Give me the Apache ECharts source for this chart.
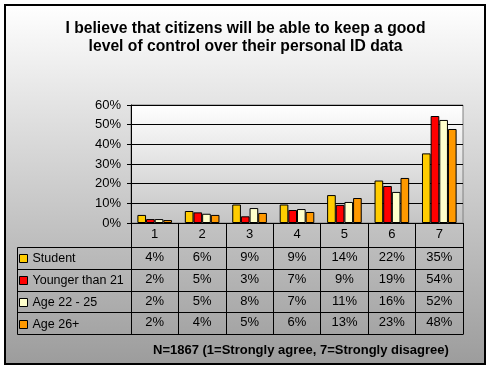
<!DOCTYPE html>
<html><head><meta charset="utf-8">
<script src="https://cdn.jsdelivr.net/npm/echarts@6/dist/echarts.min.js"></script>
<style>html,body{margin:0;padding:0;background:#fff}#c{width:491px;height:369px}</style>
</head><body><div id="c"></div>
<script>
// ---- data ----
const categories = ['1', '2', '3', '4', '5', '6', '7'];
const seriesNames = ['Student', 'Younger than 21', 'Age 22 - 25', 'Age 26+'];
const student = [4.1, 6.1, 9.4, 9.4, 14.2, 21.6, 35.4];
const younger = [2.0, 5.4, 3.4, 6.6, 9.2, 18.8, 54.4];
const age2225 = [2.0, 4.7, 7.6, 7.1, 10.7, 15.8, 52.4];
const age26 = [1.5, 4.1, 5.1, 5.6, 12.7, 22.9, 47.8];
const yTicks = [0, 10, 20, 30, 40, 50, 60];
const titleText = 'I believe that citizens will be able to keep a good\nlevel of control over their personal ID data';
const footnote = 'N=1867 (1=Strongly agree, 7=Strongly disagree)';
const colors = ['#FFCC00', '#FF0000', '#FFFFCC', '#FF9900'];

// ---- layout ----
const W = 491, H = 369;
const gL = 131, gR = 463, gT = 105, gB = 223;
const tableLeft = 17, tableTop = 247, rowH = 21.8;
const font = "'Liberation Sans', Arial, sans-serif";

const allSeries = [student, younger, age2225, age26];
const chart = echarts.init(document.getElementById('c'), null, { renderer: 'canvas' });

const xAxes = [{
  type: 'category', data: categories, position: 'bottom', gridIndex: 0,
  axisLine: { lineStyle: { color: '#000', width: 1 } },
  axisTick: { show: true, length: tableTop + 4 * rowH - gB, lineStyle: { color: '#000' } },
  axisLabel: { color: '#000', fontSize: 13, fontFamily: font, margin: 5, lineHeight: 13 },
  splitLine: { show: false }
}];
allSeries.forEach((arr, k) => {
  xAxes.push({
    type: 'category', gridIndex: 0, position: 'bottom',
    data: arr.map(v => Math.round(v) + '%'),
    offset: Math.round(tableTop - gB + k * rowH) - 1,
    axisLine: { show: false }, axisTick: { show: false }, splitLine: { show: false },
    axisLabel: { color: '#000', fontSize: 13, fontFamily: font, margin: 5, lineHeight: 13 }
  });
});

const graphics = [{
  type: 'rect', z: -100, silent: true,
  shape: { x: 5, y: 5, width: 480, height: 359 },
  style: {
    fill: new echarts.graphic.LinearGradient(0, 0, 0, 1, [
      { offset: 0, color: '#ffffff' }, { offset: 1, color: '#9c9c9c' }]),
    stroke: '#000', lineWidth: 2
  }
}];
for (let i = 0; i <= 4; i++) {
  const y = Math.round(tableTop + i * rowH) + 0.5;
  graphics.push({ type: 'line', silent: true, z: 10,
    shape: { x1: tableLeft + 0.5, y1: y, x2: gR + 0.5, y2: y },
    style: { stroke: '#000', lineWidth: 1 } });
}
graphics.push({ type: 'line', silent: true, z: 10,
  shape: { x1: tableLeft + 0.5, y1: tableTop + 0.5, x2: tableLeft + 0.5, y2: Math.round(tableTop + 4 * rowH) + 0.5 },
  style: { stroke: '#000', lineWidth: 1 } });

chart.setOption({
  animation: false,
  backgroundColor: '#ffffff',
  textStyle: { fontFamily: font },
  title: [{
    text: titleText, left: 'center', top: 15,
    textStyle: { fontSize: 15.7, fontWeight: 'bold', color: '#000', fontFamily: font, lineHeight: 18 }
  }, {
    text: footnote, left: 148, top: 339,
    textStyle: { fontSize: 13, fontWeight: 'bold', color: '#000', fontFamily: font }
  }],
  legend: {
    orient: 'vertical', left: 19, top: 252, itemWidth: 8, itemHeight: 8, itemGap: 9,
    padding: 0, icon: 'rect', itemStyle: { borderColor: '#000', borderWidth: 1 },
    textStyle: { fontSize: 12.5, color: '#000', fontFamily: font },
    data: seriesNames
  },
  grid: {
    left: gL, right: W - gR, top: gT, bottom: H - gB, outerBoundsMode: 'none', containLabel: false,
    show: true, borderColor: '#808080', borderWidth: 1,
    backgroundColor: new echarts.graphic.LinearGradient(0, 0, 0, 1, [
      { offset: 0, color: '#ffffff' }, { offset: 1, color: '#c4c4c4' }])
  },
  xAxis: xAxes,
  yAxis: {
    type: 'value', min: yTicks[0], max: yTicks[yTicks.length - 1], interval: 10,
    axisLine: { show: true, lineStyle: { color: '#000' } },
    axisTick: { show: true, length: 4, lineStyle: { color: '#000' } },
    axisLabel: { color: '#000', fontSize: 13, fontFamily: font, margin: 10, formatter: '{value}%' },
    splitLine: { show: true, lineStyle: { color: '#000', width: 1 } }
  },
  graphic: graphics,
  series: allSeries.map((arr, k) => ({
    name: seriesNames[k], type: 'bar', xAxisIndex: 0, data: arr,
    barGap: '0%', barCategoryGap: '27%',
    itemStyle: { color: colors[k], borderColor: '#000', borderWidth: 1 }
  }))
});
</script></body></html>
